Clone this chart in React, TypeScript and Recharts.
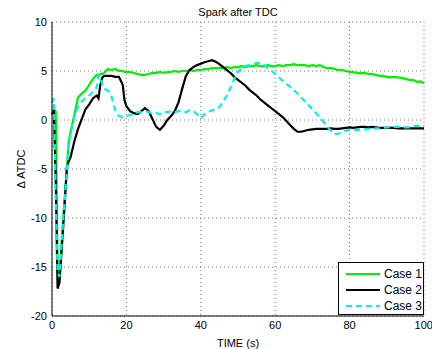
import { LineChart, Line, XAxis, YAxis, CartesianGrid } from 'recharts';

const TIME = [
  0, 0.5, 1, 1.5, 2, 2.5, 3, 3.5, 4, 4.5, 5, 6, 7, 8, 9, 10, 11, 12, 12.5, 13, 13.5, 14,
  15, 16, 17, 18, 19, 19.5, 20, 21, 22, 23, 24, 25, 26, 27, 28, 29, 30, 31, 32, 33, 34,
  35, 36, 37, 38, 39, 40, 41, 42, 43, 44, 45, 46, 47, 48, 49, 50, 51, 52, 53, 54, 55, 56,
  57, 58, 59, 60, 61, 62, 63, 64, 65, 66, 67, 68, 69, 70, 71, 72, 73, 74, 75, 76, 77, 78,
  79, 80, 81, 82, 83, 84, 85, 86, 87, 88, 89, 90, 91, 92, 93, 94, 95, 96, 97, 98, 99, 100,
];

const CASE1 = [
  1.0, 1.1, 0.9, -15.5, -16.4, -13.0, -10.0, -7.5, -5.0, -2.2, -1.2, 0.5, 2.3, 2.7, 3.0, 3.6, 4.2, 4.6, 4.6, 4.7, 4.7, 4.8,
  5.2, 5.1, 5.2, 5.0, 5.0, 4.9, 4.9, 4.9, 4.8, 4.7, 4.6, 4.6, 4.7, 4.8, 4.8, 4.9, 4.8, 4.9, 4.9, 5.0, 4.9,
  5.0, 5.0, 5.1, 5.0, 5.1, 5.1, 5.2, 5.2, 5.3, 5.3, 5.3, 5.3, 5.4, 5.3, 5.4, 5.4, 5.5, 5.4, 5.5, 5.5, 5.6, 5.5,
  5.5, 5.6, 5.5, 5.5, 5.6, 5.5, 5.6, 5.6, 5.7, 5.6, 5.6, 5.6, 5.5, 5.6, 5.5, 5.6, 5.4, 5.3, 5.3, 5.2, 5.1, 5.1,
  5.0, 4.9, 4.9, 4.8, 4.75, 4.8, 4.7, 4.7, 4.6, 4.5, 4.5, 4.4, 4.35, 4.4, 4.35, 4.3, 4.2, 4.1, 4.1, 3.9, 3.95, 3.75,
];

const CASE2 = [
  0.6, 0.9, -6.0, -17.2, -16.6, -13.8, -11.0, -8.0, -4.8, -4.2, -3.8, -2.2, -0.9, 0.1, 1.1, 1.6, 2.2, 2.5, 2.2, 3.6, 4.3, 4.5,
  4.5, 4.5, 4.4, 4.4, 3.6, 2.0, 1.4, 0.9, 0.7, 0.6, 0.9, 1.2, 0.9, 0.1, -0.7, -1.0, -0.6, 0.0, 0.4, 0.9, 1.8,
  3.2, 4.5, 5.1, 5.4, 5.6, 5.75, 5.9, 6.0, 6.1, 5.95, 5.7, 5.4, 5.1, 4.8, 4.4, 4.1, 3.8, 3.5, 3.1, 2.8, 2.5, 2.1,
  1.8, 1.5, 1.2, 0.9, 0.6, 0.3, -0.1, -0.5, -0.9, -1.2, -1.2, -1.1, -1.0, -0.95, -0.9, -0.9, -0.9, -0.9, -0.85, -0.9, -0.9, -0.85,
  -0.8, -0.75, -0.8, -0.75, -0.7, -0.7, -0.75, -0.7, -0.75, -0.8, -0.8, -0.8, -0.8, -0.8, -0.85, -0.85, -0.85, -0.85, -0.85, -0.85, -0.85, -0.85,
];

const CASE3 = [
  1.8, 2.2, -8.0, -15.5, -16.0, -13.2, -10.2, -7.8, -5.2, -2.4, -1.3, 0.3, 1.4, 1.9, 2.2, 2.5, 2.9, 3.3, 4.6, 4.4, 3.6, 3.2,
  3.0, 2.4, 1.0, 0.4, 0.3, 0.3, 0.4, 0.5, 0.6, 0.8, 0.8, 0.9, 0.8, 0.7, 0.7, 0.6, 0.8, 0.8, 0.9, 0.8, 0.9,
  0.9, 0.8, 1.0, 0.9, 0.6, 0.2, 0.6, 0.8, 1.0, 1.1, 1.3, 1.9, 2.5, 3.3, 4.2, 4.9, 5.3, 5.5, 5.6, 5.7, 5.8, 5.85,
  5.6, 5.3, 5.0, 4.7, 4.35, 4.0, 3.7, 3.4, 3.05, 2.7, 2.3, 1.9, 1.5, 1.1, 0.7, 0.3, -0.2, -0.7, -1.1, -1.45, -1.4, -1.2,
  -1.1, -1.0, -1.0, -1.0, -1.0, -0.95, -0.9, -0.9, -0.85, -0.85, -0.8, -0.75, -0.75, -0.7, -0.7, -0.7, -0.75, -0.75, -0.65, -0.6, -0.6, -0.6,
];

const X_TICKS = [0, 20, 40, 60, 80, 100];
const Y_TICKS = [-20, -15, -10, -5, 0, 5, 10];

const SERIES = [
  { key: 'case1', name: 'Case 1', color: '#00ee00', dash: undefined as string | undefined },
  { key: 'case2', name: 'Case 2', color: '#000000', dash: undefined as string | undefined },
  { key: 'case3', name: 'Case 3', color: '#00f0f0', dash: '6 4' },
];

const data = TIME.map((t, i) => ({ t, case1: CASE1[i], case2: CASE2[i], case3: CASE3[i] }));

const FONT = '"Liberation Sans", Arial, sans-serif';
const TICK = { fill: '#000', fontSize: 11, fontFamily: FONT };

export default function App() {
  return (
    <div style={{ position: 'absolute', left: 0, top: 0, width: 432, height: 349, background: '#fff', fontFamily: FONT }}>
      <div style={{ position: 'absolute', left: 0, width: 476, top: 6, textAlign: 'center', fontSize: 11 }}>
        Spark after TDC
      </div>
      <LineChart width={432} height={349} data={data} margin={{ top: 22, right: 8, left: 0, bottom: 0 }}>
        <CartesianGrid stroke="#777" strokeDasharray="1 3" />
        <XAxis
          dataKey="t"
          type="number"
          domain={[0, 100]}
          ticks={X_TICKS}
          height={33}
          tickSize={0}
          tickMargin={5}
          tick={TICK}
          axisLine={{ stroke: '#000' }}
          label={{ value: 'TIME (s)', position: 'insideBottom', offset: 2, fill: '#000', fontSize: 11, fontFamily: FONT }}
        />
        <YAxis
          type="number"
          domain={[-20, 10]}
          ticks={Y_TICKS}
          width={52}
          tickSize={0}
          tickMargin={5}
          tick={TICK}
          axisLine={{ stroke: '#000' }}
          label={{ value: 'Δ ATDC', angle: -90, position: 'center', dx: -5, fill: '#000', fontSize: 11, fontFamily: FONT }}
        />
        {SERIES.map((s) => (
          <Line
            key={s.key}
            type="linear"
            dataKey={s.key}
            name={s.name}
            stroke={s.color}
            strokeWidth={2.2}
            strokeDasharray={s.dash}
            dot={false}
            isAnimationActive={false}
          />
        ))}
      </LineChart>
      <div
        style={{
          position: 'absolute', left: 338, top: 262, width: 84, height: 51,
          border: '1px solid #000', background: '#fff', fontSize: 12,
        }}
      >
        {SERIES.map((s, i) => (
          <div key={s.key} style={{ position: 'absolute', left: 6, top: 3 + i * 16, height: 16, display: 'flex', alignItems: 'center' }}>
            <svg width={36} height={16}>
              <line x1={1} y1={8} x2={35} y2={8} stroke={s.color} strokeWidth={2.2} strokeDasharray={s.dash} />
            </svg>
            <span style={{ marginLeft: 3 }}>{s.name}</span>
          </div>
        ))}
      </div>
    </div>
  );
}
